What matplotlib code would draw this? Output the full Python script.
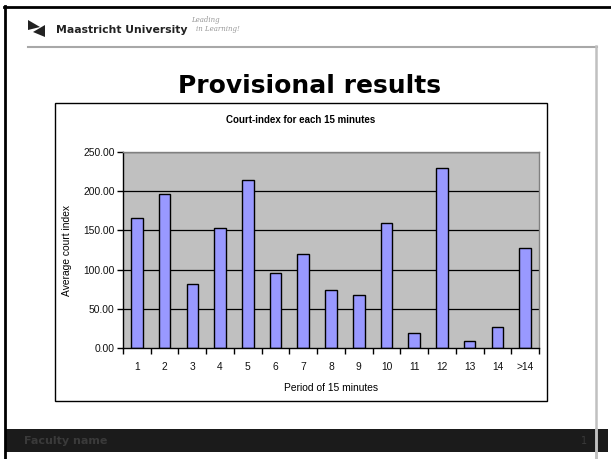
import matplotlib
matplotlib.use('Agg')
import matplotlib.pyplot as plt
from matplotlib.lines import Line2D
from matplotlib.patches import Rectangle, Polygon

# Data
periods = ['1', '2', '3', '4', '5', '6', '7', '8', '9', '10', '11', '12', '13', '14', '>14']
court_index = [166, 197, 81, 153, 214, 96, 120, 74, 68, 160, 19, 229, 8.5, 26.5, 127]
y_ticks = [0, 50, 100, 150, 200, 250]

W, H = 611, 459
fig = plt.figure(figsize=(W / 100, H / 100), dpi=100)
fig.patch.set_facecolor('white')


def fx(x):
    return x / W


def fy(y):
    # pixel rows counted from the top
    return 1 - y / H


def hline(x0, x1, y, color, lw):
    fig.add_artist(Line2D([fx(x0), fx(x1)], [fy(y), fy(y)], color=color, lw=lw,
                          transform=fig.transFigure))


def vline(x, y0, y1, color, lw):
    fig.add_artist(Line2D([fx(x), fx(x)], [fy(y0), fy(y1)], color=color, lw=lw,
                          transform=fig.transFigure))


# slide frame
hline(4, 611, 7, 'black', 2)
vline(5, 6, 459, 'black', 2)
hline(28, 597, 46.5, '#a8a8a8', 1.5)
vline(596, 46, 459, '#c0c0c0', 1.8)

# header logo + name
fig.add_artist(Polygon([(fx(28), fy(20)), (fx(40), fy(27)), (fx(28), fy(30))], closed=True,
                       facecolor='#222222', edgecolor='none', transform=fig.transFigure))
fig.add_artist(Polygon([(fx(33), fy(32)), (fx(45), fy(25)), (fx(45), fy(37))], closed=True,
                       facecolor='#222222', edgecolor='none', transform=fig.transFigure))
fig.text(fx(56), fy(30), 'Maastricht University', fontsize=7.8, fontweight='bold',
         family='DejaVu Sans', color='#222222', va='center', ha='left')
fig.text(fx(191), fy(20), 'Leading', fontsize=5, style='italic', color='#999999',
         va='center', ha='left', family='DejaVu Serif')
fig.text(fx(196), fy(29), 'in Learning!', fontsize=5, style='italic', color='#999999',
         va='center', ha='left', family='DejaVu Serif')

# slide title
fig.text(fx(309), fy(93), 'Provisional results', fontsize=18, fontweight='bold',
         family='DejaVu Sans', color='black', ha='center', va='baseline')

# chart frame
fig.add_artist(Rectangle((fx(55), fy(401)), fx(547 - 55), (401 - 103) / H, fill=False,
                         edgecolor='black', lw=1, transform=fig.transFigure))

# footer bar
fig.add_artist(Rectangle((fx(6), fy(452)), fx(608 - 6), (452 - 429) / H, facecolor='#1b1b1b',
                         edgecolor='none', transform=fig.transFigure, zorder=1))
vline(596, 429, 459, '#c0c0c0', 1.8)
fig.text(fx(24), fy(441), 'Faculty name', fontsize=8, fontweight='bold', color='#3a3a3a',
         family='DejaVu Sans', va='center', ha='left')
fig.text(fx(584), fy(441), '1', fontsize=7, color='#3a3a3a', family='DejaVu Sans',
         va='center', ha='center')

# chart
ax = fig.add_axes([fx(123), fy(348), fx(539 - 123), (348 - 152) / H])
ax.set_facecolor('#c0c0c0')
x = list(range(len(periods)))
ax.bar(x, court_index, width=0.42, color='#9999ff', edgecolor='black', linewidth=1, zorder=3)

ax.set_xlim(-0.5, len(periods) - 0.5)
ax.set_ylim(0, 250)
ax.set_yticks(y_ticks)
ax.set_yticklabels([f'{v:.2f}' for v in y_ticks])
for v in y_ticks[1:]:
    ax.axhline(v, color='black', lw=0.9, zorder=2)

ax.set_xticks([i + 0.5 for i in range(-1, len(periods))])
ax.set_xticklabels([])
ax.set_xticks(x, minor=True)
ax.set_xticklabels(periods, minor=True)
ax.tick_params(axis='x', which='major', direction='out', length=4, width=1, color='black')
ax.tick_params(axis='x', which='minor', length=0, pad=10)
ax.tick_params(axis='y', direction='out', length=4, width=1, color='black', pad=2)
for lab in ax.get_xticklabels(minor=True) + ax.get_yticklabels():
    lab.set_fontsize(7.4)
    lab.set_family('Liberation Sans')
    lab.set_color('#111111')

ax.spines['left'].set_color('black')
ax.spines['bottom'].set_color('black')
ax.spines['top'].set_color('#808080')
ax.spines['right'].set_color('#808080')
for s in ax.spines.values():
    s.set_linewidth(1)
    s.set_zorder(4)

ax.set_ylabel('Average court index', fontsize=7.4, family='Liberation Sans', labelpad=8)
ax.set_xlabel('Period of 15 minutes', fontsize=7.4, family='Liberation Sans', labelpad=8)
fig.text(fx(301), fy(120), 'Court-index for each 15 minutes', fontsize=7, fontweight='bold',
         family='Liberation Sans', ha='center', va='center')

fig.savefig('out.png', dpi=100)
